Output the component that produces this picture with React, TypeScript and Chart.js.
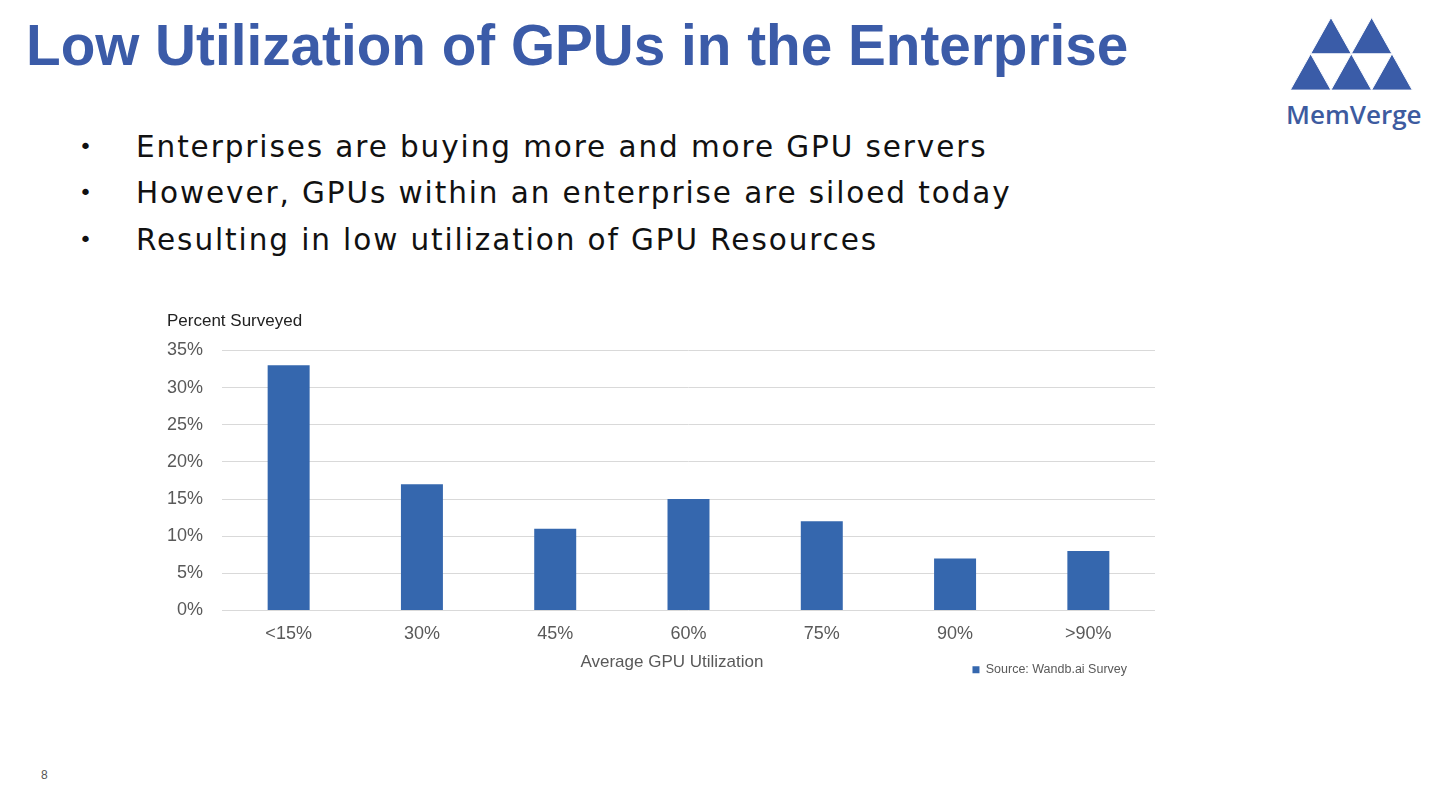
import React, { useEffect, useRef } from "react";
import { Chart, registerables } from "chart.js";

Chart.register(...registerables);

const categories = ["<15%", "30%", "45%", "60%", "75%", "90%", ">90%"];
const percentSurveyed = [33, 17, 11, 15, 12, 7, 8];
const yTicks = [0, 5, 10, 15, 20, 25, 30, 35];
const seriesLabel = "Source: Wandb.ai Survey";
const bullets = [
  "Enterprises are buying more and more GPU servers",
  "However, GPUs within an enterprise are siloed today",
  "Resulting in low utilization of GPU Resources",
];

const legendShift = {
  id: "legendShift",
  afterLayout(chart: any) {
    const lg = chart.legend;
    if (!lg) return;
    const dy = -23;
    const dx = -18;
    lg.top += dy;
    lg.bottom += dy;
    lg.left += dx;
    lg.right += dx;
  },
};

function BarChart() {
  const ref = useRef<HTMLCanvasElement | null>(null);
  useEffect(() => {
    if (!ref.current) return;
    const chart = new Chart(ref.current, {
      type: "bar",
      data: {
        labels: categories,
        datasets: [
          {
            label: seriesLabel,
            data: percentSurveyed,
            backgroundColor: "#3567AE",
            borderWidth: 0,
            categoryPercentage: 1,
            barPercentage: 0.315,
          },
        ],
      },
      options: {
        animation: false,
        responsive: false,
        maintainAspectRatio: false,
        layout: { padding: { left: 7, right: 5, top: 0, bottom: 1 } },
        plugins: {
          tooltip: { enabled: false },
          title: {
            display: true,
            text: "Percent Surveyed",
            align: "start",
            color: "#222222",
            font: { family: "Liberation Sans, Arial, sans-serif", size: 17, weight: "normal" },
            padding: { top: 6, bottom: 19 },
          },
          legend: {
            display: true,
            position: "bottom",
            align: "end",
            labels: {
              boxWidth: 7,
              boxHeight: 7,
              color: "#595959",
              font: { family: "Liberation Sans, Arial, sans-serif", size: 12.5 },
              padding: 10,
            },
          },
        },
        scales: {
          x: {
            afterFit(scale: any) {
              scale.height = 66;
            },
            grid: { display: false, drawTicks: false },
            border: { display: false },
            ticks: {
              color: "#595959",
              font: { family: "Liberation Sans, Arial, sans-serif", size: 18 },
              padding: 13,
            },
            title: {
              display: true,
              text: "Average GPU Utilization       ",
              color: "#595959",
              font: { family: "Liberation Sans, Arial, sans-serif", size: 17 },
              padding: { top: 0, bottom: 4 },
            },
          },
          y: {
            min: 0,
            max: 35,
            afterFit(scale: any) {
              scale.width = 55;
            },
            afterBuildTicks(scale: any) {
              scale.ticks = yTicks.map((v) => ({ value: v }));
            },
            grid: { color: "#D9D9D9", lineWidth: 1, drawTicks: false },
            border: { display: false },
            ticks: {
              color: "#595959",
              font: { family: "Liberation Sans, Arial, sans-serif", size: 18 },
              padding: 19,
              callback: (v: any) => v + "%",
            },
          },
        },
      },
      plugins: [legendShift],
    });
    return () => chart.destroy();
  }, []);
  return <canvas ref={ref} width={1000} height={405} style={{ width: 1000, height: 405, display: "block" }} />;
}

function Logo() {
  const w = 40.67;
  const h = 36.3;
  const x0 = 1290.3;
  const yTop = 17.5;
  const tri = (ax: number, ay: number) =>
    `${ax},${ay} ${ax - w / 2},${ay + h} ${ax + w / 2},${ay + h}`;
  const tris = [
    tri(x0 + w, yTop),
    tri(x0 + 2 * w, yTop),
    tri(x0 + w / 2, yTop + h),
    tri(x0 + 1.5 * w, yTop + h),
    tri(x0 + 2.5 * w, yTop + h),
  ];
  return (
    <svg width={1453} height={140} style={{ position: "absolute", left: 0, top: 0 }}>
      {tris.map((p, i) => (
        <polygon key={i} points={p} fill="#3A5CA8" stroke="#ffffff" strokeWidth={1} />
      ))}
    </svg>
  );
}

export default function App() {
  return (
    <div
      style={{
        position: "absolute",
        left: 0,
        top: 0,
        width: 1453,
        height: 802,
        background: "#ffffff",
        overflow: "hidden",
      }}
    >
      <div
        style={{
          position: "absolute",
          left: 26,
          top: 11.4,
          fontFamily: "Liberation Sans, Arial, sans-serif",
          fontWeight: "bold",
          fontSize: 56.7,
          lineHeight: "70px",
          color: "#3B5BA8",
          whiteSpace: "nowrap",
        }}
      >
        Low Utilization of GPUs in the Enterprise
      </div>
      <Logo />
      <div
        style={{
          position: "absolute",
          left: 1286,
          top: 97,
          width: 134,
          textAlign: "center",
          fontFamily: "Open Sans, sans-serif",
          fontWeight: 600,
          fontSize: 26,
          lineHeight: "34px",
          color: "#3D5B9F",
          whiteSpace: "nowrap",
        }}
      >
        MemVerge
      </div>
      {bullets.map((b, i) => (
        <div
          key={i}
          style={{
            position: "absolute",
            left: 0,
            top: 126.5 + i * 46.5,
            height: 40,
            fontFamily: "DejaVu Sans, sans-serif",
            fontSize: 29.5,
            lineHeight: "40px",
            color: "#111111",
            whiteSpace: "nowrap",
          }}
        >
          <span style={{ position: "absolute", left: 79, fontSize: 22 }}>•</span>
          <span style={{ position: "absolute", left: 136, letterSpacing: 1.9 }}>{b}</span>
        </div>
      ))}
      <div style={{ position: "absolute", left: 160, top: 305 }}>
        <BarChart />
      </div>
      <div
        style={{
          position: "absolute",
          left: 41,
          top: 768,
          fontFamily: "Liberation Sans, Arial, sans-serif",
          fontSize: 12,
          color: "#555555",
        }}
      >
        8
      </div>
    </div>
  );
}
